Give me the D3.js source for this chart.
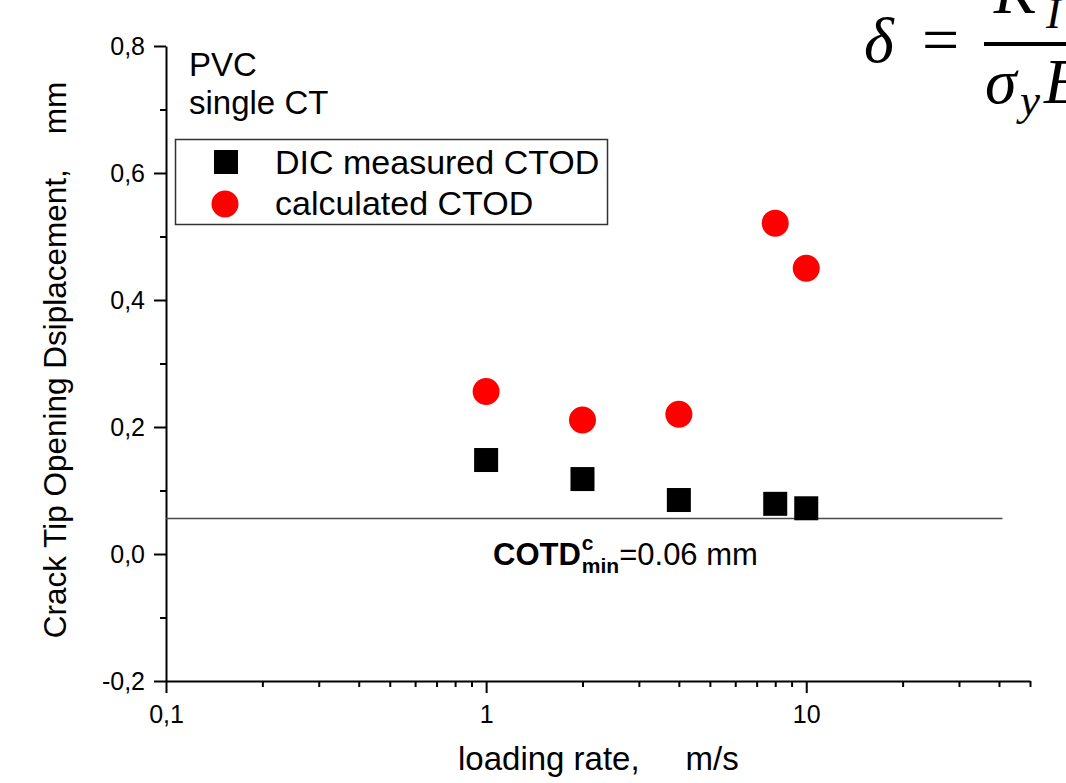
<!DOCTYPE html>
<html>
<head>
<meta charset="utf-8">
<script src="https://cdn.jsdelivr.net/npm/d3@7/dist/d3.min.js"></script>
<style>
  html, body { margin: 0; padding: 0; background: #fff; }
  svg { display: block; }
  text { font-family: "Liberation Sans", Arial, sans-serif; fill: #000; white-space: pre; }
</style>
</head>
<body>
<svg id="chart" width="1066" height="783"></svg>
<script>
// Loading rates (m/s) and crack tip opening displacement (mm)
const rates = [1, 2, 4, 8, 10];
const dicCTOD = [0.148, 0.118, 0.085, 0.079, 0.072];
const calcCTOD = [0.256, 0.211, 0.220, 0.521, 0.450];

// Minimum critical CTOD threshold and the rate span it is drawn over
const ctodMin = 0.056;
const thresholdRates = [0.1, 41];

// Axis ticks
const xMajorTicks = [0.1, 1, 10];
const xMajorLabels = ["0,1", "1", "10"];
const xMinorTicks = [0.2, 0.3, 0.4, 0.5, 0.6, 0.7, 0.8, 0.9,
                     2, 3, 4, 5, 6, 7, 8, 9,
                     20, 30, 40, 50];
const yMajorTicks = [-0.2, 0, 0.2, 0.4, 0.6, 0.8];
const yMinorTicks = [-0.1, 0.1, 0.3, 0.5, 0.7];

const seriesNames = ["DIC measured CTOD", "calculated CTOD"];

const svg = d3.select("#chart");

const x = d3.scaleLog().domain([0.1, 50]).range([166, 1030]);
const y = d3.scaleLinear().domain([-0.2, 0.8]).range([681, 46]);

const commaFmt = v => d3.format(".1f")(v).replace(".", ",").replace("−", "-");

// ---- axes ----
// y axis: major ticks with labels
svg.append("g")
  .attr("transform", `translate(${x.range()[0]},0)`)
  .call(d3.axisLeft(y).tickValues(yMajorTicks).tickSize(12).tickSizeOuter(0)
        .tickPadding(9).tickFormat(commaFmt));
// y axis: minor ticks
svg.append("g")
  .attr("transform", `translate(${x.range()[0]},0)`)
  .call(d3.axisLeft(y).tickValues(yMinorTicks).tickSize(6).tickFormat(""))
  .call(g => g.select(".domain").remove());

// x axis: major ticks with labels
svg.append("g")
  .attr("transform", `translate(0,${y.range()[0]})`)
  .call(d3.axisBottom(x).tickValues(xMajorTicks).tickSize(12).tickSizeOuter(0)
        .tickPadding(12).tickFormat((d, i) => xMajorLabels[i]));
// x axis: minor ticks
svg.append("g")
  .attr("transform", `translate(0,${y.range()[0]})`)
  .call(d3.axisBottom(x).tickValues(xMinorTicks).tickSize(6).tickFormat(""))
  .call(g => g.select(".domain").remove());

svg.selectAll(".domain, .tick line")
  .attr("stroke", "#000").attr("stroke-width", 2);
svg.selectAll(".tick text")
  .style("font-family", "'Liberation Sans', Arial, sans-serif")
  .attr("font-size", 25).attr("fill", "#000");

// axis titles
svg.append("text")
  .attr("x", 458).attr("y", 770)
  .attr("font-size", 33)
  .text("loading rate,     m/s");

svg.append("text")
  .attr("transform", "translate(66,360) rotate(-90)")
  .attr("text-anchor", "middle")
  .attr("font-size", 31.5)
  .text("Crack Tip Opening Dsiplacement,    mm");

// ---- threshold line ----
svg.append("line")
  .attr("x1", x(thresholdRates[0])).attr("x2", x(thresholdRates[1]))
  .attr("y1", y(ctodMin)).attr("y2", y(ctodMin))
  .attr("stroke", "#4a4a4a").attr("stroke-width", 1.5);

// threshold label: COTD^c_min=0.06 mm
const lbl = svg.append("g").attr("transform", "translate(493,565)");
const lblMain = lbl.append("text").attr("font-size", 31).attr("font-weight", "bold").text("COTD");
const mainW = lblMain.node().getComputedTextLength();
lbl.append("text").attr("x", mainW + 1).attr("y", -15)
  .attr("font-size", 21).attr("font-weight", "bold").text("c");
const sub = lbl.append("text").attr("x", mainW + 1).attr("y", 8)
  .attr("font-size", 21).attr("font-weight", "bold").text("min");
const subW = sub.node().getComputedTextLength();
lbl.append("text").attr("x", mainW + subW + 1).attr("font-size", 31)
  .text("=" + d3.format(".2f")(ctodMin) + " mm");

// ---- data marks ----
const sq = 24;
svg.append("g").selectAll("rect")
  .data(rates.map((r, i) => [r, dicCTOD[i]]))
  .join("rect")
  .attr("x", d => x(d[0]) - sq / 2)
  .attr("y", d => y(d[1]) - sq / 2)
  .attr("width", sq).attr("height", sq)
  .attr("fill", "#000");

svg.append("g").selectAll("circle")
  .data(rates.map((r, i) => [r, calcCTOD[i]]))
  .join("circle")
  .attr("cx", d => x(d[0]))
  .attr("cy", d => y(d[1]))
  .attr("r", 13.5)
  .attr("fill", "#ff0000");

// ---- annotation text ----
svg.append("text").attr("x", 189).attr("y", 76).attr("font-size", 33).text("PVC");
svg.append("text").attr("x", 189).attr("y", 114).attr("font-size", 33).text("single CT");

// ---- legend ----
const legend = svg.append("g");
legend.append("rect")
  .attr("x", 175.5).attr("y", 139.5).attr("width", 432).attr("height", 85)
  .attr("fill", "#fff").attr("stroke", "#333").attr("stroke-width", 1.5);
legend.append("rect")
  .attr("x", 226 - sq / 2).attr("y", 162 - sq / 2).attr("width", sq).attr("height", sq)
  .attr("fill", "#000");
legend.append("circle").attr("cx", 225).attr("cy", 204).attr("r", 13.5).attr("fill", "#ff0000");
legend.append("text").attr("x", 275).attr("y", 174).attr("font-size", 34).text(seriesNames[0]);
legend.append("text").attr("x", 275).attr("y", 215).attr("font-size", 34).text(seriesNames[1]);

// ---- CTOD formula (runs past the right edge) ----
const serif = "'Liberation Serif', 'DejaVu Serif', serif";
const eq = svg.append("g");
const eqText = (px, py, size, italic, s) => eq.append("text")
  .attr("x", px).attr("y", py).attr("font-size", size)
  .attr("font-style", italic ? "italic" : "normal")
  .style("font-family", serif).text(s);
eqText(864, 62, 64, true, "δ");
eqText(922, 62, 66, false, "=");
eq.append("line").attr("x1", 984).attr("x2", 1070).attr("y1", 44).attr("y2", 44)
  .attr("stroke", "#000").attr("stroke-width", 4);
eqText(994, 13, 64, true, "K");
eqText(1046, 28, 45, true, "I");
eqText(985, 103, 64, true, "σ");
eqText(1020, 115, 45, true, "y");
eqText(1044, 103, 64, true, "E");
</script>
</body>
</html>
